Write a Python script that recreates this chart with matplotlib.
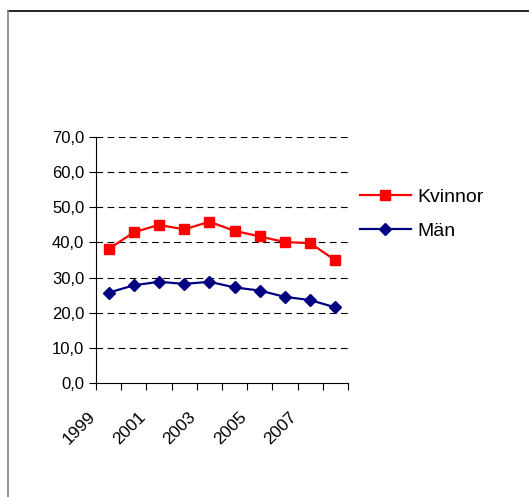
import matplotlib.pyplot as plt
from matplotlib.lines import Line2D
from matplotlib.ticker import FuncFormatter
from matplotlib.transforms import ScaledTranslation

plt.rcParams['font.family'] = ['Liberation Sans', 'DejaVu Sans']

years = list(range(1999, 2009))
kvinnor = [38.1, 42.9, 45.0, 43.7, 45.9, 43.3, 41.7, 40.1, 39.8, 34.9]
man = [25.7, 27.8, 28.8, 28.2, 28.8, 27.2, 26.3, 24.5, 23.6, 21.5]
tick_labels = ['1999', '2001', '2003', '2005', '2007']

fig = plt.figure(figsize=(5.29, 4.97), dpi=100)
ax = fig.add_axes([0.1815, 0.2294, 0.4763, 0.4949])

x = [i + 0.5 for i in range(len(years))]
ax.plot(x, kvinnor, color='#ff0000', lw=1.6, marker='s', ms=6.5,
        label='Kvinnor', zorder=3)
ax.plot(x, man, color='#000080', lw=1.6, marker='D', ms=6,
        label='Män', zorder=3)

ax.set_xlim(0, len(years))
ax.set_ylim(0, 70)
ax.set_yticks(range(0, 71, 10))
ax.yaxis.set_major_formatter(FuncFormatter(lambda v, p: f'{v:.1f}'.replace('.', ',')))
for v in range(10, 71, 10):
    ax.axhline(v, color='black', lw=0.8, dashes=(6, 4), zorder=1)

# tick marks on category boundaries, a rotated label on every other boundary
ax.set_xticks(range(len(years) + 1))
ax.set_xticklabels([])
ax.tick_params(axis='x', direction='out', length=5, width=0.8)
ax.tick_params(axis='y', direction='out', length=5, width=0.8, labelsize=12)
lbl_trans = ax.get_xaxis_transform() + ScaledTranslation(-0.085, -0.26, fig.dpi_scale_trans)
for i, lbl in zip(range(0, len(years), 2), tick_labels):
    ax.text(i, 0, lbl, transform=lbl_trans, rotation=45, ha='right', va='top',
            rotation_mode='anchor', fontsize=12.5, clip_on=False)

for s in ['top', 'right']:
    ax.spines[s].set_visible(False)
ax.spines['left'].set_linewidth(0.8)
ax.spines['bottom'].set_linewidth(0.8)

ax.legend(loc='center left', bbox_to_anchor=(360 / 529, 1 - 214 / 497),
          bbox_transform=fig.transFigure, frameon=False, borderpad=0,
          borderaxespad=0, fontsize=14, handlelength=2.6, labelspacing=0.85,
          handletextpad=0.35)

# outer frame lines
fig.add_artist(Line2D([8 / 529, 1], [1 - 11 / 497, 1 - 11 / 497],
                      color='black', lw=1.2, transform=fig.transFigure))
fig.add_artist(Line2D([8 / 529, 8 / 529], [0, 1 - 11 / 497],
                      color='#808080', lw=1.2, transform=fig.transFigure))

fig.savefig('out.png', dpi=100)
